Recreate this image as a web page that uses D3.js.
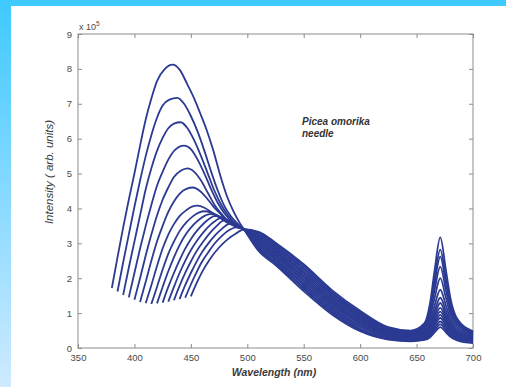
<!DOCTYPE html>
<html>
<head>
<meta charset="utf-8">
<script src="https://cdn.jsdelivr.net/npm/d3@7"></script>
<style>
  body { margin: 0; background: #fff; }
  svg { display: block; }
</style>
</head>
<body>
<svg></svg>
<script>
//Chart size, same as the browser window.
var w = 506;
var h = 387;

//Tick values of both axes.
var wavelengthTicks = [350, 400, 450, 500, 550, 600, 650, 700];
var intensityTicks = [0, 1, 2, 3, 4, 5, 6, 7, 8, 9];

//Rising edge and blue band of each spectrum (wavelength in nm).
var headNm = [
  [380, 385, 390, 395, 400, 405, 410, 415, 420, 427, 434, 440, 447, 453, 458, 464, 470, 476, 482, 488, 493, 497],
  [385, 390, 395, 400, 405, 410, 415, 420, 425, 431, 438, 444, 450, 456, 462, 468, 474, 480, 486, 492, 497],
  [390, 395, 400, 405, 410, 415, 420, 425, 430, 435, 441, 447, 453, 459, 465, 471, 477, 483, 490, 497],
  [395, 400, 405, 410, 415, 420, 425, 430, 436, 444, 450, 456, 462, 468, 474, 480, 487, 492, 497],
  [400, 405, 410, 415, 420, 425, 430, 435, 441, 447, 453, 459, 465, 471, 477, 484, 490, 497],
  [405, 410, 415, 420, 425, 430, 435, 440, 446, 452, 458, 464, 470, 476, 482, 490, 497],
  [410, 415, 420, 425, 430, 435, 440, 446, 451, 456, 462, 468, 475, 482, 490, 497],
  [415, 420, 425, 430, 435, 440, 446, 452, 457, 462, 468, 475, 482, 490, 497],
  [420, 425, 430, 435, 440, 446, 452, 458, 463, 467, 473, 480, 488, 497],
  [425, 430, 435, 440, 445, 451, 457, 463, 467, 471, 477, 484, 491, 497],
  [430, 435, 440, 445, 450, 456, 462, 468, 472, 476, 482, 489, 497],
  [435, 440, 445, 450, 455, 461, 467, 473, 479, 485, 491, 497],
  [440, 445, 450, 455, 460, 466, 472, 478, 484, 490, 497],
  [445, 450, 455, 460, 466, 472, 478, 484, 490, 497],
  [450, 455, 460, 467, 475, 482, 490, 497]
];

//Intensities (x 10^5) matching headNm.
var headVal = [
  [1.72, 2.6, 3.45, 4.25, 5.0, 5.8, 6.55, 7.15, 7.65, 8.0, 8.12, 7.98, 7.55, 7.15, 6.75, 6.25, 5.65, 4.95, 4.35, 3.9, 3.6, 3.4],
  [1.62, 2.45, 3.25, 4.05, 4.8, 5.5, 6.1, 6.6, 6.95, 7.12, 7.17, 7.0, 6.65, 6.2, 5.65, 5.05, 4.5, 4.05, 3.75, 3.55, 3.4],
  [1.52, 2.3, 3.05, 3.8, 4.55, 5.15, 5.65, 6.02, 6.3, 6.43, 6.47, 6.3, 5.95, 5.5, 5.0, 4.5, 4.1, 3.8, 3.55, 3.4],
  [1.45, 2.15, 2.85, 3.5, 4.1, 4.65, 5.05, 5.4, 5.68, 5.8, 5.7, 5.4, 5.0, 4.55, 4.15, 3.85, 3.6, 3.48, 3.4],
  [1.38, 2.0, 2.65, 3.25, 3.8, 4.25, 4.6, 4.9, 5.08, 5.15, 5.05, 4.8, 4.45, 4.1, 3.85, 3.6, 3.48, 3.4],
  [1.32, 1.9, 2.5, 3.05, 3.5, 3.9, 4.2, 4.42, 4.56, 4.6, 4.5, 4.3, 4.05, 3.85, 3.65, 3.5, 3.4],
  [1.28, 1.8, 2.35, 2.85, 3.25, 3.55, 3.78, 3.95, 4.05, 4.08, 4.02, 3.9, 3.75, 3.6, 3.48, 3.4],
  [1.26, 1.75, 2.25, 2.7, 3.05, 3.35, 3.6, 3.78, 3.88, 3.92, 3.88, 3.77, 3.63, 3.5, 3.4],
  [1.28, 1.75, 2.2, 2.6, 2.95, 3.28, 3.52, 3.7, 3.8, 3.84, 3.8, 3.68, 3.52, 3.4],
  [1.3, 1.75, 2.15, 2.52, 2.85, 3.17, 3.42, 3.62, 3.72, 3.78, 3.75, 3.62, 3.5, 3.4],
  [1.33, 1.75, 2.15, 2.5, 2.8, 3.1, 3.35, 3.55, 3.65, 3.72, 3.68, 3.56, 3.4],
  [1.37, 1.78, 2.15, 2.48, 2.77, 3.05, 3.3, 3.5, 3.65, 3.62, 3.52, 3.4],
  [1.4, 1.8, 2.15, 2.47, 2.75, 3.02, 3.25, 3.43, 3.56, 3.52, 3.4],
  [1.44, 1.82, 2.17, 2.48, 2.77, 3.03, 3.23, 3.38, 3.46, 3.42],
  [1.48, 1.85, 2.18, 2.55, 2.88, 3.1, 3.28, 3.4]
];

//Green tail and chlorophyll band, same wavelengths for every spectrum.
var tailNm = [510, 525, 550, 575, 600, 625, 645, 657, 662, 666, 671, 676, 680, 686, 700];

var tailVal = [
  [2.78, 2.38, 1.63, 0.96, 0.48, 0.24, 0.19, 0.23, 0.31, 0.45, 0.60, 0.45, 0.32, 0.22, 0.14],
  [2.82, 2.43, 1.69, 1.01, 0.52, 0.26, 0.21, 0.26, 0.34, 0.51, 0.68, 0.51, 0.36, 0.25, 0.16],
  [2.86, 2.48, 1.74, 1.06, 0.56, 0.29, 0.23, 0.28, 0.38, 0.57, 0.76, 0.57, 0.41, 0.28, 0.19],
  [2.90, 2.53, 1.80, 1.11, 0.61, 0.32, 0.26, 0.31, 0.42, 0.64, 0.86, 0.64, 0.45, 0.31, 0.21],
  [2.94, 2.57, 1.85, 1.16, 0.65, 0.34, 0.29, 0.34, 0.47, 0.71, 0.95, 0.71, 0.50, 0.35, 0.24],
  [2.98, 2.62, 1.91, 1.21, 0.70, 0.37, 0.31, 0.37, 0.51, 0.78, 1.04, 0.78, 0.55, 0.38, 0.26],
  [3.02, 2.66, 1.96, 1.26, 0.74, 0.40, 0.33, 0.40, 0.56, 0.86, 1.15, 0.86, 0.60, 0.42, 0.29],
  [3.06, 2.71, 2.02, 1.31, 0.78, 0.42, 0.35, 0.43, 0.62, 0.95, 1.29, 0.95, 0.67, 0.45, 0.31],
  [3.10, 2.75, 2.07, 1.36, 0.82, 0.45, 0.37, 0.46, 0.68, 1.06, 1.44, 1.06, 0.73, 0.49, 0.33],
  [3.14, 2.80, 2.13, 1.41, 0.87, 0.47, 0.39, 0.49, 0.77, 1.22, 1.67, 1.22, 0.83, 0.54, 0.36],
  [3.18, 2.84, 2.18, 1.46, 0.91, 0.50, 0.41, 0.54, 0.89, 1.44, 2.00, 1.44, 0.96, 0.60, 0.38],
  [3.22, 2.89, 2.24, 1.51, 0.95, 0.52, 0.43, 0.58, 1.00, 1.66, 2.33, 1.66, 1.09, 0.67, 0.41],
  [3.26, 2.93, 2.29, 1.56, 0.99, 0.55, 0.46, 0.62, 1.11, 1.86, 2.62, 1.86, 1.21, 0.73, 0.43],
  [3.30, 2.98, 2.35, 1.61, 1.03, 0.57, 0.48, 0.66, 1.18, 2.00, 2.82, 2.00, 1.29, 0.78, 0.46],
  [3.33, 3.02, 2.40, 1.66, 1.07, 0.60, 0.50, 0.71, 1.30, 2.23, 3.17, 2.23, 1.43, 0.84, 0.48]
];

var svg = d3.select("svg").attr("width", w).attr("height", h);

//Page frame: cyan band on top, fading band on the left.
var grad = svg.append("defs").append("linearGradient")
  .attr("id", "side").attr("x1", 0).attr("y1", 0).attr("x2", 0).attr("y2", 1);
grad.append("stop").attr("offset", "0%").attr("stop-color", "#3ec9ff");
grad.append("stop").attr("offset", "100%").attr("stop-color", "#cfeaff");
svg.append("rect").attr("width", w).attr("height", h).attr("fill", "#fff");
svg.append("rect").attr("x", 0).attr("y", 0).attr("width", 11).attr("height", h).attr("fill", "url(#side)");
svg.append("rect").attr("x", 0).attr("y", 0).attr("width", w).attr("height", 6).attr("fill", "#3ec9ff");

var x = d3.scaleLinear().domain([350, 700]).range([78, 473]);
var y = d3.scaleLinear().domain([0, 9]).range([348, 34]);

var font = "'Liberation Sans', Arial, sans-serif";
var axisColor = "#8c8c8c";
var textColor = "#4a4a4a";

//Axes with inward ticks, labels only on bottom and left.
function styleAxis(g) {
  g.select(".domain").remove();
  g.selectAll(".tick line").attr("stroke", axisColor);
  g.selectAll(".tick text").attr("fill", textColor)
    .style("font-family", font).style("font-size", "9.5px");
}

svg.append("g").attr("transform", "translate(0," + y(0) + ")")
  .call(d3.axisBottom(x).tickValues(wavelengthTicks).tickSize(-4).tickPadding(6))
  .call(styleAxis);
svg.append("g").attr("transform", "translate(0," + y(9) + ")")
  .call(d3.axisTop(x).tickValues(wavelengthTicks).tickSize(-4).tickFormat(""))
  .call(styleAxis);
svg.append("g").attr("transform", "translate(" + x(350) + ",0)")
  .call(d3.axisLeft(y).tickValues(intensityTicks).tickSize(-4).tickPadding(6))
  .call(styleAxis);
svg.append("g").attr("transform", "translate(" + x(700) + ",0)")
  .call(d3.axisRight(y).tickValues(intensityTicks).tickSize(-4).tickFormat(""))
  .call(styleAxis);

//Plot box.
svg.append("rect")
  .attr("x", x(350)).attr("y", y(9))
  .attr("width", x(700) - x(350)).attr("height", y(0) - y(9))
  .attr("fill", "none").attr("stroke", axisColor).attr("stroke-width", 1);

//Build each spectrum from its head and tail arrays.
var spectra = headNm.map((nms, i) => {
  var pts = nms.map((nm, j) => [nm, headVal[i][j]]);
  return pts.concat(tailNm.map((nm, j) => [nm, tailVal[i][j]]));
});

var line = d3.line()
  .x(d => x(d[0]))
  .y(d => y(d[1]))
  .curve(d3.curveMonotoneX);

svg.append("g")
  .selectAll("path")
  .data(spectra)
  .enter().append("path")
    .attr("d", line)
    .attr("fill", "none")
    .attr("stroke", "#2b3a92")
    .attr("stroke-width", 1.8)
    .attr("stroke-linejoin", "round");

//Exponent label above the y axis.
var expo = svg.append("text")
  .attr("x", x(350) + 1).attr("y", y(9) - 4)
  .attr("fill", textColor)
  .style("font-family", font).style("font-size", "9px");
expo.append("tspan").text("x 10");
expo.append("tspan").attr("dy", -4).style("font-size", "6.5px").text("5");

//Axis titles.
svg.append("text")
  .attr("transform", "translate(53,172) rotate(-90)")
  .attr("text-anchor", "middle")
  .attr("fill", "#3a3a3a")
  .style("font-family", font).style("font-size", "11.5px").style("font-style", "italic")
  .text("Intensity ( arb. units)");

svg.append("text")
  .attr("x", 274).attr("y", 376)
  .attr("text-anchor", "middle")
  .attr("fill", "#3a3a3a")
  .style("font-family", font).style("font-size", "10.5px").style("font-style", "italic")
  .style("font-weight", "bold")
  .text("Wavelength (nm)");

//Sample annotation.
var note = svg.append("text")
  .attr("fill", "#333")
  .style("font-family", font).style("font-size", "10px").style("font-style", "italic")
  .style("font-weight", "bold");
note.append("tspan").attr("x", 302).attr("y", 125).text("Picea omorika");
note.append("tspan").attr("x", 302).attr("y", 137).text("needle");
</script>
</body>
</html>
